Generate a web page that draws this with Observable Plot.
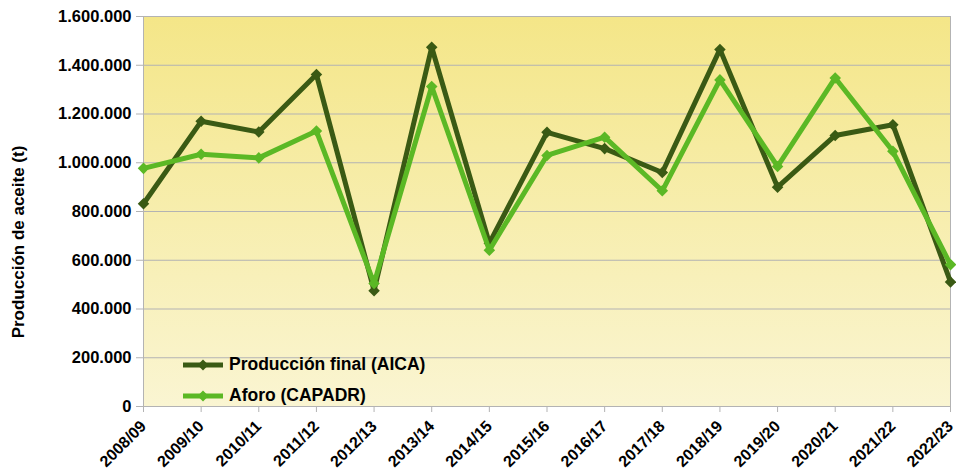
<!DOCTYPE html>
<html>
<head>
<meta charset="utf-8">
<script src="https://cdn.jsdelivr.net/npm/d3@7"></script>
<script src="https://cdn.jsdelivr.net/npm/@observablehq/plot@0.6"></script>
<style>
  body { margin: 0; background: #fff; }
  #wrap { position: relative; width: 956px; height: 475px; font-family: "Liberation Sans", Arial, sans-serif; font-weight: bold; color: #000; }
  #ytitle { position: absolute; left: 19px; top: 242px; transform: translate(-50%, -50%) rotate(-90deg); white-space: nowrap; font-size: 17px; }
  #legend { position: absolute; left: 183px; top: 349px; font-size: 17.5px; }
  .row { display: flex; align-items: center; height: 31px; }
  .row svg { margin-right: 6px; }
</style>
</head>
<body>
<div id="wrap">
  <div id="ytitle">Producción de aceite (t)</div>
  <div id="legend"></div>
</div>
<script>
const campaigns = ["2008/09","2009/10","2010/11","2011/12","2012/13","2013/14","2014/15","2015/16","2016/17","2017/18","2018/19","2019/20","2020/21","2021/22","2022/23"];
const aica  = [832000, 1170000, 1126000, 1362000, 475000, 1474000, 670000, 1125000, 1058000, 960000, 1465000, 900000, 1112000, 1156000, 511000];
const aforo = [977000, 1035000, 1020000, 1130000, 505000, 1313000, 641000, 1030000, 1105000, 885000, 1340000, 985000, 1348000, 1047000, 582000];
const yTicks = [0, 200000, 400000, 600000, 800000, 1000000, 1200000, 1400000, 1600000];
const seriesNames = ["Producción final (AICA)", "Aforo (CAPADR)"];
const seriesColors = ["#3a5a14", "#5bb825"];

const rowsA = campaigns.map((c, i) => ({campaign: c, value: aica[i], serie: seriesNames[0]}));
const rowsB = campaigns.map((c, i) => ({campaign: c, value: aforo[i], serie: seriesNames[1]}));

const fmt = d => d3.format(",")(d).replace(/,/g, ".");
const grey = "#b3b3b3";

const defs = () => {
  const d = d3.create("svg:defs");
  const g = d.append("linearGradient").attr("id", "bg").attr("x1", 0).attr("y1", 0).attr("x2", 0).attr("y2", 1);
  g.append("stop").attr("offset", "0%").attr("stop-color", "#f4e688");
  g.append("stop").attr("offset", "100%").attr("stop-color", "#faf5d2");
  return d.node();
};

const plot = Plot.plot({
  width: 956, height: 475,
  marginLeft: 143, marginRight: 6, marginTop: 16, marginBottom: 69,
  style: {fontFamily: '"Liberation Sans", Arial, sans-serif', fontWeight: "bold", fontSize: "16.5px", color: "#000", background: "transparent", overflow: "visible"},
  x: {type: "point", domain: campaigns, padding: 0, round: false},
  y: {domain: [0, 1600000]},
  color: {domain: seriesNames, range: seriesColors},
  marks: [
    defs,
    Plot.frame({fill: "url(#bg)", stroke: null}),
    Plot.gridY(yTicks, {stroke: grey, strokeOpacity: 1, strokeWidth: 1}),
    Plot.ruleX([campaigns[campaigns.length - 1]], {stroke: grey}),
    Plot.axisY(yTicks, {tickFormat: fmt, tickSize: 7, tickPadding: 5, stroke: grey, fill: "#000", label: null, fontSize: 16.5}),
    Plot.axisX({tickRotate: -45, tickSize: 6, tickPadding: 11, stroke: grey, fill: "#000", label: null, fontSize: 16}),
    Plot.ruleY([0], {stroke: grey}),
    Plot.ruleX([campaigns[0]], {stroke: grey}),
    Plot.line(rowsA, {x: "campaign", y: "value", stroke: "serie", strokeWidth: 5}),
    Plot.dot(rowsA, {x: "campaign", y: "value", fill: "serie", symbol: "diamond2", r: 5.2}),
    Plot.line(rowsB, {x: "campaign", y: "value", stroke: "serie", strokeWidth: 5}),
    Plot.dot(rowsB, {x: "campaign", y: "value", fill: "serie", symbol: "diamond2", r: 5.2})
  ]
});
plot.style.position = "absolute";
plot.style.left = "0px";
plot.style.top = "0px";
document.getElementById("wrap").prepend(plot);

const legend = document.getElementById("legend");
seriesNames.forEach((name, i) => {
  const row = document.createElement("div");
  row.className = "row";
  row.innerHTML = `<svg width="40" height="14"><line x1="0" y1="7" x2="40" y2="7" stroke="${seriesColors[i]}" stroke-width="5"/><path d="M20,1.5L25.5,7L20,12.5L14.5,7Z" fill="${seriesColors[i]}"/></svg><span>${name}</span>`;
  legend.appendChild(row);
});
</script>
</body>
</html>
